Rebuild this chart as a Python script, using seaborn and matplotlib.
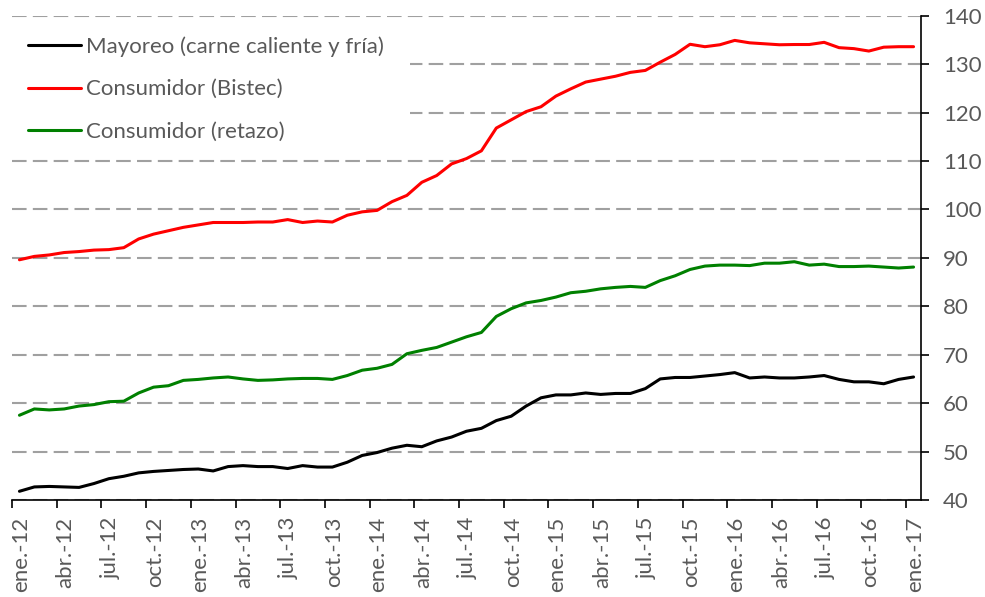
import pandas as pd
import numpy as np
import matplotlib
matplotlib.use("Agg")
import matplotlib.pyplot as plt
import seaborn as sns

# monthly index values, ene.-12 .. ene.-17 (61 months)
mayoreo = [41.8, 42.7, 42.8, 42.7, 42.6, 43.4, 44.4, 44.9, 45.6, 45.9,
           46.1, 46.3, 46.4, 46.0, 46.9, 47.1, 46.9, 46.9, 46.5, 47.1,
           46.8, 46.8, 47.8, 49.2, 49.8, 50.7, 51.3, 51.0, 52.2, 53.0,
           54.2, 54.8, 56.4, 57.3, 59.4, 61.1, 61.7, 61.7, 62.1, 61.8,
           62.0, 62.0, 63.0, 65.0, 65.3, 65.3, 65.6, 65.9, 66.3, 65.2,
           65.4, 65.2, 65.2, 65.4, 65.7, 64.9, 64.4, 64.4, 64.0, 64.9,
           65.4]
bistec = [89.6, 90.3, 90.6, 91.1, 91.3, 91.6, 91.7, 92.1, 93.9, 94.9,
          95.6, 96.3, 96.8, 97.3, 97.3, 97.3, 97.4, 97.4, 97.9, 97.3,
          97.6, 97.4, 98.8, 99.5, 99.8, 101.6, 102.9, 105.6, 107.0, 109.4,
          110.5, 112.1, 116.8, 118.5, 120.2, 121.2, 123.4, 124.9, 126.3, 126.9,
          127.5, 128.3, 128.7, 130.4, 132.0, 134.1, 133.6, 134.0, 134.9, 134.4,
          134.2, 134.0, 134.05, 134.05, 134.5, 133.4, 133.2, 132.7, 133.5, 133.6,
          133.6]
retazo = [57.5, 58.8, 58.6, 58.8, 59.4, 59.7, 60.3, 60.4, 62.1, 63.3,
          63.6, 64.7, 64.9, 65.2, 65.4, 65.0, 64.7, 64.8, 65.0, 65.1,
          65.1, 64.9, 65.7, 66.8, 67.2, 68.0, 70.2, 70.9, 71.5, 72.6,
          73.7, 74.6, 77.9, 79.5, 80.7, 81.2, 81.9, 82.8, 83.1, 83.6,
          83.9, 84.1, 83.9, 85.3, 86.3, 87.6, 88.3, 88.5, 88.5, 88.4,
          88.9, 88.9, 89.2, 88.5, 88.7, 88.2, 88.2, 88.3, 88.1, 87.9,
          88.1]

series_names = ["Mayoreo (carne caliente y fría)", "Consumidor (Bistec)", "Consumidor (retazo)"]
series_colors = ["#000000", "#ff0000", "#008000"]

months = ["ene.", "feb.", "mar.", "abr.", "may.", "jun.", "jul.", "ago.", "sep.", "oct.", "nov.", "dic."]
n = len(mayoreo)
tick_pos = list(range(0, n, 3))
tick_labels = [f"{months[i % 12]}-{12 + i // 12}" for i in tick_pos]

# long table for seaborn, points sit in the middle of each month
df = pd.DataFrame({
    "x": np.tile(np.arange(n) + 0.5, 3),
    "valor": mayoreo + bistec + retazo,
    "serie": np.repeat(series_names, n),
})

sns.set_style("white")
plt.rcParams["font.family"] = ["Lato", "DejaVu Sans"]

fig = plt.figure(figsize=(9.85, 5.97), dpi=100)
ax = fig.add_axes([12 / 985, 1 - 500 / 597, (921 - 12) / 985, (500 - 15.7) / 597])

sns.lineplot(data=df, x="x", y="valor", hue="serie", hue_order=series_names,
             palette=series_colors, linewidth=2.2, ax=ax, legend=True)

ax.set_xlim(0, n)
ax.set_ylim(40, 140)
ax.set_yticks(range(40, 141, 10))
# tick marks on month boundaries, labels centred on the month
ax.set_xticks(tick_pos)
ax.set_xticklabels([])
ax.set_xticks([p + 0.6 for p in tick_pos], minor=True)
ax.set_xticklabels(tick_labels, minor=True, rotation=90, va="top")
ax.set_xlabel("")
ax.set_ylabel("")

ax.yaxis.tick_right()
for s in ["left", "top"]:
    ax.spines[s].set_visible(False)
for s in ["right", "bottom"]:
    ax.spines[s].set_color("black")
    ax.spines[s].set_linewidth(1.2)

ax.tick_params(axis="both", which="major", direction="out", length=6, width=1.2,
               color="black", labelcolor="#595959", labelsize=16)
ax.tick_params(axis="y", right=True, left=False, pad=10)
ax.tick_params(axis="x", which="major", bottom=True)
ax.tick_params(axis="x", which="minor", length=0, labelsize=16,
               labelcolor="#595959", pad=12)

ax.grid(axis="y", color="#a0a0a0", linestyle=(0, (7, 3)), linewidth=1.5)
ax.set_axisbelow(True)

handles, labels = ax.get_legend_handles_labels()
leg = ax.legend(handles, labels, loc="upper left", bbox_to_anchor=(0, 0, 398 / 909, 0.99),
                mode="expand", borderaxespad=0, frameon=True, facecolor="white",
                edgecolor="none", framealpha=1, fontsize=16, handlelength=2.4,
                handletextpad=0.25, labelspacing=1.02, borderpad=0.7)
for t in leg.get_texts():
    t.set_color("#595959")
for h in leg.get_lines():
    h.set_linewidth(2.2)

fig.savefig("out.png", dpi=100)
